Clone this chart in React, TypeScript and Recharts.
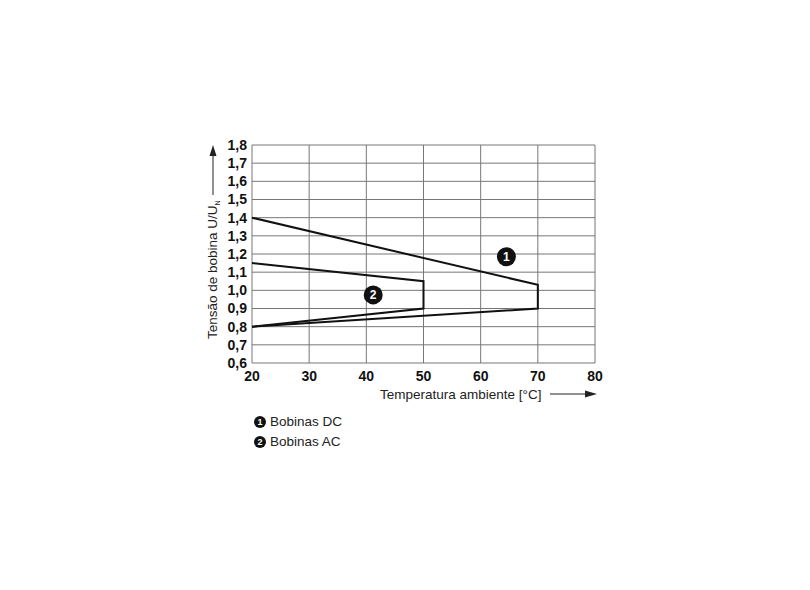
import { LineChart, Line, XAxis, YAxis, CartesianGrid, ReferenceDot } from 'recharts'

const tempTicks = [20, 30, 40, 50, 60, 70, 80]
const voltTicks = [0.6, 0.7, 0.8, 0.9, 1.0, 1.1, 1.2, 1.3, 1.4, 1.5, 1.6, 1.7, 1.8]

// DC coil window (1)
const dcTemp = [20, 70, 70, 20]
const dcVolt = [1.4, 1.03, 0.9, 0.8]
// AC coil window (2)
const acTemp = [20, 50, 50, 20]
const acVolt = [1.15, 1.05, 0.9, 0.8]

const badges = [
  { id: '1', t: 64.5, v: 1.185 },
  { id: '2', t: 41.2, v: 0.975 },
]
const legendItems = [
  { id: '1', text: 'Bobinas DC' },
  { id: '2', text: 'Bobinas AC' },
]

const dcData = dcTemp.map((t, i) => ({ t, v: dcVolt[i] }))
const acData = acTemp.map((t, i) => ({ t, v: acVolt[i] }))

const FONT = '"Liberation Sans", Arial, Helvetica, sans-serif'
const fmt = (v: number) => v.toFixed(1).replace('.', ',')

function YLabel(props: any) {
  const vb = props.viewBox || {}
  const x = 213
  const bottom = vb.y + vb.height - 24
  const top = vb.y
  return (
    <g>
      <text
        transform={`translate(${x + 4}, ${bottom}) rotate(-90)`}
        fontSize={13.5}
        fontFamily={FONT}
        fill="#222"
      >
        Tensão de bobina U/U
        <tspan fontSize={7} dy={3}>N</tspan>
      </text>
      <line x1={x} x2={x} y1={top + 50} y2={top + 8} stroke="#222" strokeWidth={1} />
      <polygon points={`${x},${top} ${x - 3.5},${top + 11} ${x + 3.5},${top + 11}`} fill="#222" />
    </g>
  )
}

function XLabel(props: any) {
  const vb = props.viewBox || {}
  const y = vb.y + 31
  const right = vb.x + vb.width + 2
  return (
    <g>
      <text x={380} y={y + 5} fontSize={13.5} fontFamily={FONT} fill="#222">
        Temperatura ambiente [°C]
      </text>
      <line x1={550} x2={right - 8} y1={y} y2={y} stroke="#222" strokeWidth={1} />
      <polygon points={`${right},${y} ${right - 12},${y - 3.5} ${right - 12},${y + 3.5}`} fill="#222" />
    </g>
  )
}

function Badge(props: any) {
  const { cx, cy, id } = props
  return (
    <g>
      <circle cx={cx} cy={cy} r={9.5} fill="#111" />
      <text x={cx} y={cy + 4.5} textAnchor="middle" fontSize={12} fontWeight="bold" fontFamily={FONT} fill="#fff">
        {id}
      </text>
    </g>
  )
}

export default function App() {
  return (
    <div style={{ position: 'absolute', left: 0, top: 0, width: 810, height: 590, background: '#fff', fontFamily: FONT }}>
      <LineChart width={810} height={590} margin={{ top: 145, right: 215, left: 212, bottom: 207 }}>
        <CartesianGrid stroke="#777" strokeWidth={1} />
        <XAxis
          dataKey="t"
          type="number"
          domain={[20, 80]}
          ticks={tempTicks}
          interval={0}
          axisLine={false}
          tickLine={false}
          tickSize={0}
          tickMargin={8}
          height={20}
          tick={{ fontSize: 14, fontWeight: 'bold', fill: '#111', fontFamily: FONT }}
          label={{ content: XLabel }}
        />
        <YAxis
          type="number"
          domain={[0.6, 1.8]}
          ticks={voltTicks}
          interval={0}
          tickFormatter={fmt}
          axisLine={false}
          tickLine={false}
          tickSize={0}
          tickMargin={5}
          width={40}
          tick={{ fontSize: 14, fontWeight: 'bold', fill: '#111', fontFamily: FONT }}
          label={{ content: YLabel }}
        />
        <Line data={dcData} dataKey="v" type="linear" stroke="#111" strokeWidth={2} dot={false} isAnimationActive={false} />
        <Line data={acData} dataKey="v" type="linear" stroke="#111" strokeWidth={2} dot={false} isAnimationActive={false} />
        {badges.map(b => (
          <ReferenceDot key={b.id} x={b.t} y={b.v} r={9} shape={(p: any) => <Badge {...p} id={b.id} />} />
        ))}
      </LineChart>
      <div style={{ position: 'absolute', left: 254, top: 412, fontSize: 13.5, color: '#222', lineHeight: '20px' }}>
        {legendItems.map(l => (
          <div key={l.id} style={{ display: 'flex', alignItems: 'center' }}>
            <span
              style={{
                display: 'inline-block', width: 12, height: 12, borderRadius: 6, background: '#111',
                color: '#fff', fontSize: 9, fontWeight: 'bold', lineHeight: '12px',
                textAlign: 'center', marginRight: 4,
              }}
            >
              {l.id}
            </span>
            {l.text}
          </div>
        ))}
      </div>
    </div>
  )
}
